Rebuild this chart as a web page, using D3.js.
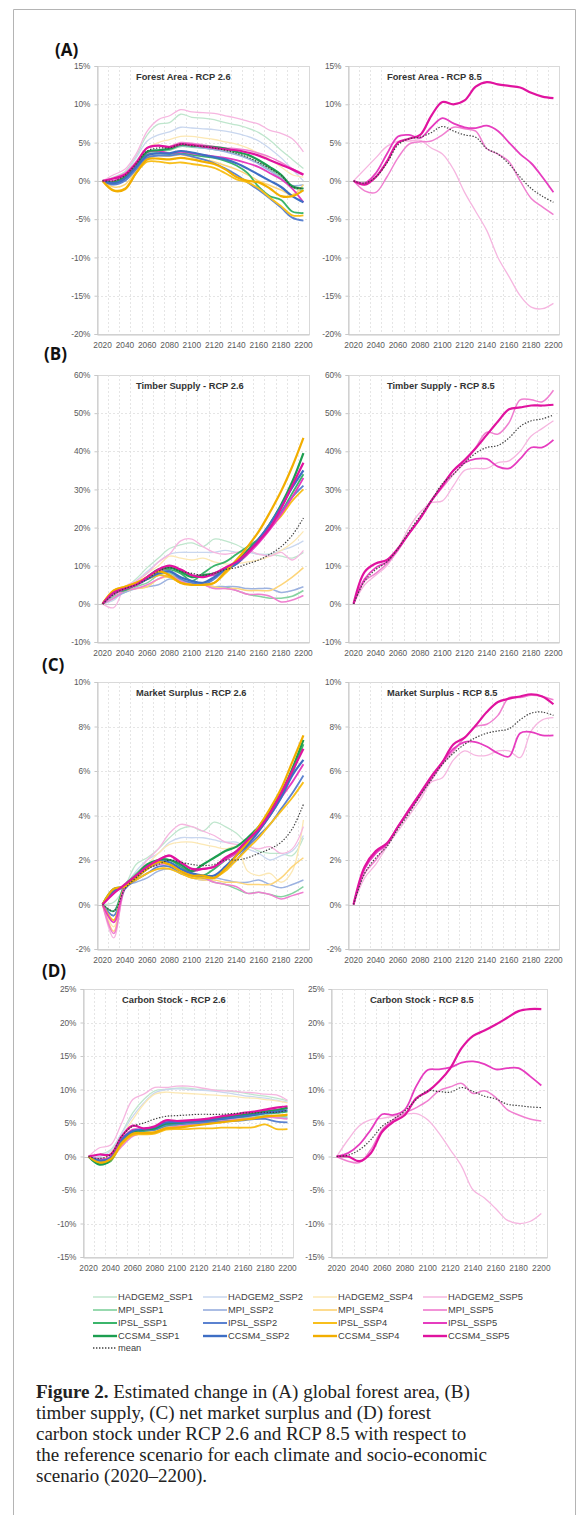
<!DOCTYPE html>
<html><head><meta charset="utf-8">
<script src="https://cdn.jsdelivr.net/npm/d3@7/dist/d3.min.js"></script>
<style>body{margin:0;background:#fff}svg{display:block}</style>
</head><body>
<svg id="fig" width="581" height="1515"></svg>
<script>
// ---------- DATA ----------
const years = [2020,2030,2040,2050,2060,2070,2080,2090,2100,2110,2120,2130,2140,2150,2160,2170,2180,2190,2200];
const xTickYears = [2020,2040,2060,2080,2100,2120,2140,2160,2180,2200];
const seriesNames26 = ["HADGEM2_SSP1","HADGEM2_SSP2","HADGEM2_SSP4","HADGEM2_SSP5","MPI_SSP1","MPI_SSP2","MPI_SSP4","MPI_SSP5","IPSL_SSP1","IPSL_SSP2","IPSL_SSP4","IPSL_SSP5","CCSM4_SSP1","CCSM4_SSP2","CCSM4_SSP4","CCSM4_SSP5","mean"];
const seriesNames85 = ["HADGEM2_SSP5","MPI_SSP5","IPSL_SSP5","CCSM4_SSP5","mean"];
const panelTitles = ["Forest Area - RCP 2.6","Forest Area - RCP 8.5","Timber Supply - RCP 2.6","Timber Supply - RCP 8.5","Market Surplus - RCP 2.6","Market Surplus - RCP 8.5","Carbon Stock - RCP 2.6","Carbon Stock - RCP 8.5"];
const panelLetters = ["(A)","(B)","(C)","(D)"];

// Forest area, RCP 2.6 (% change), rows in seriesNames26 order
const forestArea26 = [
 [0,0.5,1.2,3.2,6.0,7.4,7.6,8.7,8.3,8.2,8.0,7.6,7.3,6.9,6.3,5.3,4.0,2.8,1.6],
 [0,0.3,1.0,3.0,5.2,6.0,6.4,7.0,6.9,6.8,6.7,6.5,6.2,5.8,5.2,4.2,3.0,1.5,0.0],
 [0,-0.2,0.6,2.5,4.3,5.0,5.4,5.8,5.8,5.6,5.4,5.1,4.8,4.3,3.6,2.8,1.8,0.8,0.5],
 [0,0.8,1.5,3.5,6.5,8.0,8.5,9.3,9.0,8.9,8.8,8.5,8.2,7.8,7.4,6.6,6.2,5.5,3.8],
 [0,-0.1,0.5,2.0,3.6,3.9,4.0,4.5,4.4,4.3,4.1,3.9,3.5,3.0,2.3,1.5,0.5,-0.8,-1.3],
 [0,-0.4,0.3,2.0,3.6,4.0,4.2,4.6,4.5,4.3,4.1,3.8,3.4,2.9,2.2,1.3,0.3,-0.6,-0.5],
 [0,-0.8,-0.5,1.4,3.1,3.3,3.2,3.4,3.1,2.8,2.5,2.0,1.5,0.8,0.0,-0.6,-1.2,-1.8,-0.5],
 [0,0.4,1.0,2.5,4.3,4.6,4.5,5.0,4.9,4.7,4.5,4.3,4.2,4.0,3.6,3.1,2.4,1.6,0.9],
 [0,-0.3,0.3,1.8,3.4,3.6,3.5,3.6,3.4,3.2,3.0,2.6,2.0,1.0,-0.8,-2.0,-2.5,-4.0,-4.2],
 [0,-0.5,0.0,1.5,3.0,3.3,3.3,3.5,3.2,2.8,2.3,1.6,0.8,-0.2,-1.2,-2.3,-3.5,-4.8,-5.2],
 [0,-1.2,-1.0,1.0,2.5,2.5,2.3,2.4,2.2,2.0,1.7,1.0,0.2,-0.2,-1.0,-2.2,-3.3,-4.5,-4.5],
 [0,0.0,0.8,2.2,3.7,3.9,3.6,3.8,3.6,3.4,3.2,3.0,2.7,2.3,1.8,1.0,0.2,-1.0,-2.8],
 [0,-0.2,0.5,2.0,3.8,4.0,4.2,4.7,4.6,4.5,4.4,4.2,3.8,3.4,2.7,1.8,0.8,-0.7,-1.0],
 [0,-0.3,0.3,1.8,3.3,3.6,3.6,3.9,3.7,3.4,3.1,2.8,2.3,1.6,0.8,0.0,-0.8,-2.0,-2.8],
 [0,-1.3,-1.1,1.0,2.8,2.9,2.8,3.0,2.8,2.5,2.2,1.5,0.5,0.0,-0.2,-1.0,-2.0,-2.0,-1.2],
 [0,0.3,0.8,2.3,4.3,4.6,4.4,4.8,4.7,4.5,4.3,4.1,4.0,3.7,3.3,2.7,2.1,1.5,0.8],
 [0,0.0,0.7,2.2,3.9,4.3,4.3,4.8,4.6,4.5,4.3,4.0,3.6,3.1,2.4,1.6,0.7,-0.8,-1.0]
];
// Forest area, RCP 8.5, rows in seriesNames85 order
const forestArea85 = [
 [0,1.5,3.0,4.5,5.2,5.2,5.3,4.3,3.5,1.5,-1.5,-4.0,-6.5,-10.0,-12.5,-15.0,-16.5,-16.7,-16.0],
 [0,-1.3,-1.5,0.5,3.0,4.8,5.1,5.2,6.0,7.0,6.8,6.5,4.2,3.5,2.5,0.0,-2.3,-3.4,-4.4],
 [0,-0.3,1.0,3.5,5.8,6.0,5.6,7.0,8.2,7.5,7.0,6.9,7.2,6.5,5.0,3.5,2.3,0.5,-1.5],
 [0,-0.5,0.5,2.5,5.0,5.5,6.0,8.5,10.3,10.0,10.5,12.3,12.9,12.6,12.4,12.2,11.5,11.0,10.8],
 [0,-0.3,0.5,2.3,4.7,5.5,5.7,6.3,7.1,6.5,6.0,5.7,4.2,3.5,2.2,0.5,-1.0,-2.0,-2.8]
];
// Timber supply, RCP 2.6
const timberSupply26 = [
 [0,1.0,4.0,6.5,9.5,12.0,14.5,15.5,16.0,15.0,17.0,16.5,15.5,14.0,13.0,13.0,12.5,12.0,13.5],
 [0,1.0,4.0,6.0,8.5,11.0,13.0,13.5,13.5,13.5,13.5,14.0,13.5,13.5,13.0,13.0,14.0,15.0,16.5],
 [0,1.5,3.5,5.5,8.0,10.0,12.5,12.0,11.5,12.0,11.0,10.5,10.5,11.0,11.5,12.5,14.0,16.0,19.0],
 [0,-1.0,4.5,6.0,8.0,11.0,13.0,16.5,17.0,15.0,13.5,13.0,13.5,14.0,13.0,12.5,13.5,11.5,14.0],
 [0,2.0,3.0,4.5,5.5,7.5,8.0,6.0,5.0,5.0,4.5,4.5,3.5,2.5,2.0,1.5,1.5,2.0,3.5],
 [0,1.5,3.0,4.0,4.5,5.0,6.5,6.0,5.5,5.0,4.5,4.5,4.5,4.0,4.0,4.0,3.0,3.5,4.5],
 [0,2.5,3.5,4.0,4.5,6.5,7.0,5.5,5.0,5.0,4.5,4.0,4.0,3.5,3.5,3.5,5.0,7.0,9.5],
 [0,1.5,3.5,4.0,5.0,6.5,7.5,6.0,5.0,5.0,4.0,4.0,3.5,2.5,2.5,2.0,0.5,1.0,2.2],
 [0,3.0,3.5,5.0,6.5,8.5,9.0,8.0,6.0,8.0,10.0,11.0,13.0,15.0,17.0,20.0,24.0,29.0,34.0],
 [0,2.5,4.0,5.0,6.5,8.0,8.5,6.5,5.5,5.0,6.5,9.0,10.5,13.5,16.5,20.0,24.0,28.0,31.0],
 [0,3.5,4.5,5.5,6.5,7.5,7.0,5.5,5.0,5.0,5.5,8.0,11.0,14.0,17.0,20.0,23.0,27.0,30.0],
 [0,2.5,4.0,5.0,6.5,8.5,9.5,9.0,7.5,7.5,7.5,9.0,10.5,13.0,16.0,19.5,23.5,28.0,33.0],
 [0,3.0,4.0,5.0,7.0,9.0,9.5,8.5,7.0,7.5,8.0,9.0,11.0,14.0,17.0,21.0,26.0,32.0,39.5],
 [0,3.0,4.0,5.0,6.5,8.0,8.5,7.0,6.0,5.5,7.0,9.0,10.5,13.5,17.0,21.0,25.5,30.5,35.0],
 [0,3.5,4.5,5.5,7.0,8.5,7.5,5.5,5.0,5.0,5.5,8.5,11.5,15.0,19.0,24.0,29.5,36.0,43.5],
 [0,3.0,4.0,5.0,7.0,9.0,10.0,9.0,7.5,7.0,8.0,9.5,11.0,13.5,16.5,20.0,25.0,31.0,37.0],
 [0,2.5,4.0,5.0,6.5,8.5,9.5,8.5,8.0,7.5,8.0,9.0,9.5,10.5,11.5,13.0,15.0,18.0,22.5]
];
// Timber supply, RCP 8.5
const timberSupply85 = [
 [0,5.0,7.5,10.0,14.5,20.0,24.0,26.5,27.0,31.0,35.0,35.5,35.5,37.0,37.5,40.0,44.0,46.0,48.0],
 [0,6.0,8.0,10.5,14.0,18.5,22.5,27.0,30.5,34.0,37.0,41.0,45.0,44.5,47.5,53.5,53.5,53.0,56.0],
 [0,6.5,9.5,11.0,14.5,18.5,22.5,27.0,31.0,35.0,37.0,38.0,38.0,36.0,35.5,38.0,41.0,41.0,43.0],
 [0,8.4,10.6,11.5,14.5,18.5,22.4,27.0,31.0,35.0,37.7,40.8,44.3,47.8,51.0,51.5,52.0,52.0,52.2],
 [0,6.0,9.0,11.0,14.5,19.0,23.0,27.0,31.5,34.0,37.0,39.5,41.0,41.5,43.5,46.5,48.0,48.5,49.5]
];
// Market surplus, RCP 2.6
const marketSurplus26 = [
 [0,0.1,0.8,1.8,2.1,2.5,3.0,3.4,3.5,3.3,3.7,3.5,3.2,2.7,2.4,2.3,2.3,2.2,3.0],
 [0,-0.3,0.8,1.5,2.0,2.3,2.8,3.0,3.0,3.0,2.9,2.8,2.8,2.5,2.3,2.0,2.2,2.4,3.1],
 [0,-1.0,0.8,1.3,1.8,2.3,2.7,2.8,2.8,2.7,2.6,2.5,2.6,1.5,1.3,1.4,1.0,1.5,3.8],
 [0,-1.5,0.7,1.3,2.0,2.5,3.2,3.6,3.5,3.3,3.1,2.8,2.7,2.6,2.5,2.6,2.3,2.5,3.5],
 [0,-0.5,0.8,1.4,1.8,1.9,1.8,1.6,1.3,1.2,1.0,0.9,0.7,0.5,0.55,0.45,0.35,0.5,0.8],
 [0,-0.3,0.8,1.0,1.2,1.5,1.6,1.4,1.2,1.1,1.2,1.1,1.0,1.0,1.1,0.9,0.75,0.9,1.1],
 [0,-1.2,0.8,1.1,1.4,1.6,1.7,1.4,1.2,1.1,1.1,1.0,1.0,0.9,0.9,0.9,1.2,1.7,2.1],
 [0,-1.3,0.7,1.2,1.6,1.8,1.8,1.6,1.3,1.2,1.0,0.9,0.8,0.5,0.55,0.45,0.25,0.4,0.55],
 [0,-0.3,0.9,1.3,1.7,2.0,2.0,1.7,1.4,1.3,1.6,2.0,2.4,2.8,3.4,4.0,4.9,5.9,7.2],
 [0,-0.5,0.7,1.1,1.4,1.7,1.7,1.4,1.3,1.2,1.2,1.6,2.0,2.6,3.1,3.6,4.3,5.0,5.8],
 [0,-0.7,0.8,1.1,1.4,1.6,1.6,1.4,1.2,1.2,1.2,1.5,2.0,2.5,3.0,3.6,4.2,4.8,5.5],
 [0,-0.8,0.8,1.3,1.7,2.0,2.2,1.8,1.5,1.6,1.7,2.0,2.3,2.7,3.3,4.0,4.8,5.5,6.3],
 [0,0.7,0.8,1.3,1.8,2.0,2.0,1.8,1.5,1.8,2.1,2.4,2.6,3.0,3.5,4.2,5.0,6.1,7.4],
 [0,0.6,0.8,1.2,1.6,1.9,1.9,1.6,1.4,1.3,1.3,1.7,2.2,2.7,3.3,4.0,4.8,5.8,6.5],
 [0,0.7,0.8,1.2,1.6,1.9,1.8,1.5,1.3,1.3,1.2,1.6,2.2,2.8,3.5,4.3,5.2,6.4,7.6],
 [0,0.5,0.9,1.3,1.7,2.0,2.2,1.9,1.6,1.6,1.7,2.1,2.4,2.9,3.4,4.1,5.0,6.0,7.0],
 [0,-0.3,0.7,1.2,1.6,1.8,2.0,1.9,1.8,1.75,1.8,2.0,2.0,2.1,2.3,2.5,2.8,3.4,4.5]
];
// Market surplus, RCP 8.5
const marketSurplus85 = [
 [0,1.2,1.8,2.6,3.3,4.0,4.7,5.5,5.7,6.5,6.9,6.7,6.7,6.9,6.9,6.6,7.8,8.3,8.4],
 [0,1.4,2.0,2.7,3.5,4.3,5.0,5.6,6.3,6.9,7.5,8.0,8.1,8.5,9.3,9.3,9.4,9.35,9.2],
 [0,1.6,2.3,2.7,3.5,4.2,4.9,5.7,6.4,7.0,7.3,7.3,7.1,6.8,6.65,7.7,7.75,7.6,7.6],
 [0,1.7,2.4,2.75,3.5,4.25,5.0,5.75,6.4,7.2,7.5,8.05,8.65,9.1,9.25,9.35,9.45,9.35,9.0],
 [0,1.4,2.1,2.6,3.4,4.1,4.9,5.6,6.3,6.8,7.2,7.5,7.7,7.8,7.9,8.3,8.6,8.65,8.5]
];
// Carbon stock, RCP 2.6
const carbonStock26 = [
 [0,0.3,1.0,3.5,6.5,8.5,9.8,10.0,10.2,10.2,10.0,9.9,9.9,9.7,9.5,9.2,9.0,8.7,8.3],
 [0,0.0,0.8,3.5,6.0,8.0,9.5,10.0,10.1,10.0,9.9,9.8,9.6,9.4,9.1,8.9,8.7,8.4,8.1],
 [0,-0.5,0.5,3.0,5.5,7.8,9.3,9.6,9.5,9.4,9.3,9.2,9.1,9.0,8.8,8.7,8.5,8.3,8.0],
 [0,1.3,1.7,5.0,8.5,9.3,10.3,10.3,10.5,10.5,10.3,10.0,9.8,9.8,9.6,9.5,9.3,9.2,8.4],
 [0,-1.0,-0.6,2.0,3.3,3.6,3.8,4.4,4.6,4.8,5.0,5.2,5.4,5.6,5.8,5.9,6.1,6.0,5.9],
 [0,-0.5,-0.2,2.2,3.5,3.8,4.0,4.6,4.7,4.8,5.0,5.1,5.3,5.5,5.6,5.7,5.9,5.8,5.7],
 [0,-0.8,-0.4,2.0,3.4,3.6,3.8,4.3,4.5,4.7,4.9,5.0,5.2,5.4,5.6,5.7,5.9,6.0,6.3],
 [0,-0.3,-0.3,1.5,3.0,3.5,3.6,4.3,4.5,4.7,4.9,5.1,5.3,5.5,5.6,5.8,5.9,5.8,5.6],
 [0,-1.1,-0.7,2.2,3.5,3.8,4.0,4.6,4.8,5.0,5.2,5.4,5.6,5.8,6.0,6.2,6.4,6.5,6.7],
 [0,-0.7,-0.3,2.3,3.6,3.9,4.0,4.7,4.8,4.9,5.0,5.1,5.2,5.3,5.4,5.6,5.6,5.2,5.1],
 [0,-1.0,-0.6,1.8,3.2,3.3,3.4,4.0,4.1,4.1,4.2,4.2,4.3,4.3,4.3,4.4,4.8,4.1,4.1],
 [0,-0.5,0.0,2.5,4.0,4.0,4.3,5.0,5.1,5.3,5.4,5.6,5.8,6.0,6.3,6.5,6.8,7.0,7.2],
 [0,-1.2,-0.5,2.5,3.7,4.0,4.2,4.9,5.0,5.2,5.4,5.6,5.8,6.0,6.2,6.4,6.7,6.9,7.3],
 [0,-0.6,-0.2,2.5,3.8,4.1,4.4,5.1,5.1,5.2,5.3,5.4,5.6,5.8,6.0,6.2,6.5,6.7,6.9],
 [0,-0.9,-0.4,2.0,3.4,3.5,3.6,4.2,4.3,4.5,4.7,4.9,5.1,5.3,5.5,5.7,6.0,6.1,6.2],
 [0,0.3,0.3,3.0,4.6,4.2,4.5,5.4,5.3,5.4,5.5,5.7,6.0,6.2,6.5,6.7,7.0,7.3,7.5],
 [0,-0.3,0.3,3.0,4.5,5.0,5.6,6.0,6.1,6.2,6.3,6.3,6.3,6.4,6.5,6.5,6.6,6.6,6.9]
];
// Carbon stock, RCP 8.5
const carbonStock85 = [
 [0,2.5,4.6,5.5,5.7,6.0,6.3,6.4,5.5,3.5,1.0,-1.5,-5.0,-6.2,-7.8,-9.5,-10.0,-9.7,-8.5],
 [0,-0.7,-0.9,1.0,4.0,5.5,6.5,7.3,8.3,9.8,10.4,10.9,9.4,9.8,8.8,7.0,6.2,5.6,5.3],
 [0,0.5,1.8,4.0,6.3,6.2,7.0,10.5,12.9,13.0,13.3,14.0,14.2,13.8,13.0,13.2,13.2,12.0,10.6],
 [0,0.0,-0.7,0.5,3.7,5.2,6.2,8.7,9.7,11.2,13.2,16.2,18.0,18.8,19.7,20.7,21.7,22.0,22.0],
 [0,0.2,1.0,2.5,4.5,5.6,6.8,8.5,9.8,9.7,9.6,10.3,9.7,9.0,8.6,7.8,7.6,7.4,7.3]
];
const yDomains = [[-20,15],[-10,60],[-2,10],[-15,25]];
const yTickSteps = [5,10,2,5];

// ---------- STYLE ----------
const styleOf = {
 "HADGEM2_SSP1":{c:"#bfe6cd",w:1.3},"HADGEM2_SSP2":{c:"#c9d7ef",w:1.3},"HADGEM2_SSP4":{c:"#fce8b4",w:1.3},"HADGEM2_SSP5":{c:"#f6b6e0",w:1.3},
 "MPI_SSP1":{c:"#86d3a1",w:1.5},"MPI_SSP2":{c:"#9cb2e0",w:1.5},"MPI_SSP4":{c:"#fdd57a",w:1.5},"MPI_SSP5":{c:"#f07fd0",w:1.5},
 "IPSL_SSP1":{c:"#3bb56b",w:1.8},"IPSL_SSP2":{c:"#5b82d0",w:1.8},"IPSL_SSP4":{c:"#f8bf1c",w:1.8},"IPSL_SSP5":{c:"#e63cbf",w:1.8},
 "CCSM4_SSP1":{c:"#1c9e50",w:2.2},"CCSM4_SSP2":{c:"#3e6ec4",w:2.2},"CCSM4_SSP4":{c:"#f2ae00",w:2.2},"CCSM4_SSP5":{c:"#e0139f",w:2.2},
 "mean":{c:"#404040",w:1.2,dash:"1.4,1.6"}
};
const layout = [
 {l:97,r:309,t:66,b:334},{l:348,r:559,t:66,b:334},
 {l:97,r:309,t:375,b:642},{l:348,r:559,t:375,b:642},
 {l:97,r:309,t:682,b:949},{l:348,r:559,t:682,b:949},
 {l:83,r:293,t:989,b:1257},{l:331,r:547,t:989,b:1257}
];
const letterPos = [[55,56],[44,360],[42,671],[42,977]];
const tickFont = "Liberation Sans, Arial, sans-serif";

const svg = d3.select("#fig");
// outer frame
svg.append("path").attr("d","M13.5,1530 V9.5 H575.5 V1530").attr("fill","none").attr("stroke","#b4b4b4").attr("stroke-width",1);

const panelData = [forestArea26,forestArea85,timberSupply26,timberSupply85,marketSurplus26,marketSurplus85,carbonStock26,carbonStock85];

panelData.forEach((data,i)=>{
  const L = layout[i], row = Math.floor(i/2);
  const names = i%2===0 ? seriesNames26 : seriesNames85;
  const x = d3.scaleBand().domain(years).range([L.l,L.r]);
  const xc = yr => x(yr)+x.bandwidth()/2;
  const y = d3.scaleLinear().domain(yDomains[row]).range([L.b,L.t]);
  const step = yTickSteps[row];
  const yt = d3.range(yDomains[row][0], yDomains[row][1]+step/2, step);
  const g = svg.append("g");
  g.append("rect").attr("x",L.l+0.5).attr("y",L.t+0.5).attr("width",L.r-L.l).attr("height",L.b-L.t)
    .attr("fill","none").attr("stroke","#d9d9d9");
  years.slice(1).forEach(yr=>{
    g.append("line").attr("x1",Math.round(x(yr))+0.5).attr("x2",Math.round(x(yr))+0.5).attr("y1",L.t).attr("y2",L.b)
     .attr("stroke","#dedede").attr("stroke-width",0.8).attr("stroke-dasharray","2,2");
  });
  yt.forEach(v=>{
    if (v===yDomains[row][0]||v===yDomains[row][1]||v===0) return;
    g.append("line").attr("x1",L.l).attr("x2",L.r).attr("y1",Math.round(y(v))+0.5).attr("y2",Math.round(y(v))+0.5)
     .attr("stroke","#dedede").attr("stroke-width",0.8).attr("stroke-dasharray","2,2");
  });
  g.append("line").attr("x1",L.l).attr("x2",L.r).attr("y1",Math.round(y(0))+0.5).attr("y2",Math.round(y(0))+0.5)
    .attr("stroke","#c8c8c8").attr("stroke-width",1.2);
  const ya = d3.axisLeft(y).tickValues(yt).tickSize(3).tickPadding(4).tickFormat(d=>d+"%");
  const yg = g.append("g").attr("transform",`translate(${L.l+0.5},0)`).call(ya);
  yg.select(".domain").attr("stroke","#c8c8c8");
  yg.selectAll(".tick line").attr("stroke","#c8c8c8");
  yg.selectAll("text").attr("fill","#595959").style("font-family",tickFont).style("font-size","8.3px");
  const xa = d3.axisBottom(x).tickValues(xTickYears).tickSize(0).tickPadding(8);
  const xg = g.append("g").attr("transform",`translate(0,${L.b+0.5})`).call(xa);
  xg.select(".domain").attr("stroke","#c8c8c8");
  xg.selectAll("text").attr("fill","#595959").style("font-family",tickFont).style("font-size","8.3px");
  g.append("text").attr("x",L.l+39).attr("y",L.t+14).text(panelTitles[i])
    .style("font-family",tickFont).style("font-size","9.3px").style("font-weight","bold").attr("fill","#333");
  const line = d3.line().x((d,k)=>xc(years[k])).y(d=>y(d)).curve(d3.curveCatmullRom.alpha(0.5));
  data.forEach((vals,k)=>{
    const s = styleOf[names[k]];
    g.append("path").attr("d",line(vals)).attr("fill","none").attr("stroke",s.c).attr("stroke-width",s.w)
     .attr("stroke-linejoin","round").attr("stroke-dasharray",s.dash||null);
  });
});
panelLetters.forEach((t,i)=>{
  svg.append("text").attr("x",letterPos[i][0]).attr("y",letterPos[i][1]).text(t)
   .style("font-family","Open Sans, Liberation Sans, sans-serif").style("font-weight","bold").style("font-size","17px").attr("fill","#111");
});
// legend
const legendCols = [93,203,313,423];
const legendRows = [1297,1310,1323,1336,1348];
seriesNames26.forEach((n,k)=>{
  const col = n==="mean"?0:k%4, rw = n==="mean"?4:Math.floor(k/4);
  const s = styleOf[n], ly = legendRows[rw];
  svg.append("line").attr("x1",legendCols[col]).attr("x2",legendCols[col]+24).attr("y1",ly).attr("y2",ly)
    .attr("stroke",s.c).attr("stroke-width",s.w+0.2).attr("stroke-dasharray",s.dash||null);
  svg.append("text").attr("x",legendCols[col]+25).attr("y",ly+3.4).text(n)
    .style("font-family",tickFont).style("font-size","9.3px").attr("fill","#404040");
});
// caption
const capLines = [
 [["Figure 2.",true],[" Estimated change in (A) global forest area, (B)",false]],
 [["timber supply, (C) net market surplus and (D) forest",false]],
 [["carbon stock under RCP 2.6 and RCP 8.5 with respect to",false]],
 [["the reference scenario for each climate and socio-economic",false]],
 [["scenario (2020\u20132200).",false]]
];
capLines.forEach((ln,i)=>{
  const t = svg.append("text").attr("x",36).attr("y",1398+i*21)
    .style("font-family","Liberation Serif, Times New Roman, serif").style("font-size","19px").attr("fill","#222");
  ln.forEach(([s,b])=>t.append("tspan").text(s).style("font-weight",b?"bold":"normal"));
});
</script>
</body></html>
